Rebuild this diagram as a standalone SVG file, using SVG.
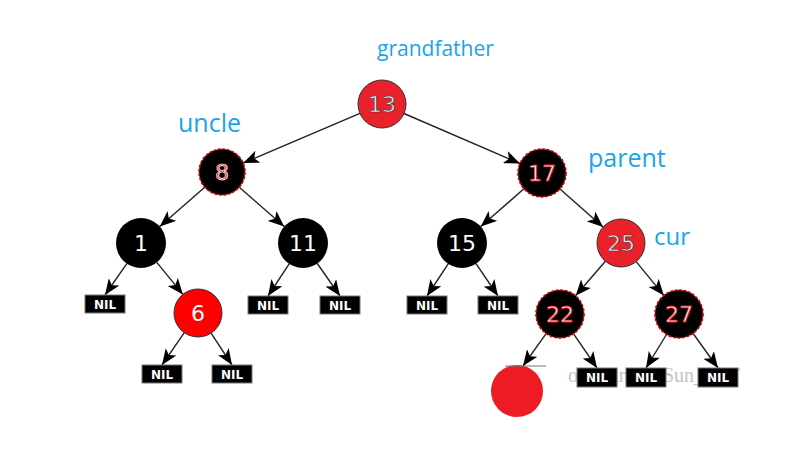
<svg xmlns="http://www.w3.org/2000/svg" width="802" height="467" viewBox="0 0 802 467">
<style>
.lbl{font-family:"Open Sans","DejaVu Sans",sans-serif;fill:#1ba3ec}
.num{font-family:"DejaVu Sans",sans-serif;font-size:22px;text-anchor:middle}
.red{fill:#e8212b;stroke:#333;stroke-width:1}
.rtx{fill:#f4f4f4;stroke:#333;stroke-width:0.6}
.blk{fill:#000}
.btx{fill:#fff}
.dsh{fill:#000;stroke:#c8000a;stroke-width:1.6;stroke-dasharray:3 1.5}
.dtx{fill:#fff;stroke:#e0101a;stroke-width:0.8}
.nilb{fill:#000;stroke:#777;stroke-width:1}
.nilt{font-family:"DejaVu Sans",sans-serif;font-weight:bold;font-size:12px;fill:#fff;text-anchor:middle}
.edge{stroke:#222;stroke-width:1.4;fill:none;marker-end:url(#ah)}
.wm{font-family:"Liberation Serif",serif;font-size:20px;fill:#c4c4c4}
</style>
<defs>
<marker id="ah" markerUnits="userSpaceOnUse" markerWidth="17" markerHeight="13" viewBox="0 0 17 13" refX="16" refY="6.5" orient="auto">
<path d="M0,0 L16,6.5 L0,13 L4,6.5 z" fill="#000"/>
</marker>
</defs>
<rect width="802" height="467" fill="#fff"/>
<text class="wm" x="568" y="382" textLength="172" lengthAdjust="spacing">og.csdn.net/Sun_TTT</text>
<g id="connectors">
<line class="edge" x1="359.9" y1="113.4" x2="243.2" y2="163"/>
<line class="edge" x1="404" y1="113.5" x2="520" y2="163.5"/>
<line class="edge" x1="204.7" y1="187.2" x2="159.8" y2="226.5"/>
<line class="edge" x1="239.3" y1="187.2" x2="284.2" y2="226.5"/>
<line class="edge" x1="523.9" y1="188.8" x2="480.8" y2="226.5"/>
<line class="edge" x1="560" y1="188.9" x2="603" y2="227.1"/>
<line class="edge" x1="126.8" y1="263.6" x2="105" y2="295"/>
<line class="edge" x1="156.8" y1="262.4" x2="182.9" y2="294.4"/>
<line class="edge" x1="289.2" y1="263.9" x2="268" y2="296"/>
<line class="edge" x1="317.3" y1="263.5" x2="340" y2="296"/>
<line class="edge" x1="448.2" y1="263.9" x2="427" y2="296"/>
<line class="edge" x1="476" y1="263.7" x2="498" y2="296"/>
<line class="edge" x1="605.4" y1="261.2" x2="575.6" y2="295.8"/>
<line class="edge" x1="636.2" y1="261.6" x2="663.8" y2="295.4"/>
<line class="edge" x1="184.3" y1="332.7" x2="162" y2="365"/>
<line class="edge" x1="211.1" y1="333.1" x2="232" y2="365"/>
<line class="edge" x1="546.1" y1="333.6" x2="523" y2="366"/>
<line class="edge" x1="573.6" y1="333.8" x2="597" y2="368"/>
<line class="edge" x1="666.5" y1="334.5" x2="646" y2="368"/>
<line class="edge" x1="693.1" y1="333.5" x2="718" y2="368"/>
</g>
<text class="lbl" x="377" y="56" font-size="21">grandfather</text>
<text class="lbl" x="178" y="132" font-size="25">uncle</text>
<text class="lbl" x="588" y="167" font-size="25">parent</text>
<text class="lbl" x="654" y="245" font-size="24">cur</text>
<g id="n13"><circle class="red" cx="382" cy="104" r="24"/><text class="num rtx" x="382" y="112">13</text></g>
<g id="n8"><circle class="dsh" cx="222" cy="172" r="23"/><text class="num" x="222" y="180" fill="#ff2a2a" stroke="#fff" stroke-width="0.7">8</text></g>
<g id="n17"><circle class="dsh" cx="542" cy="173" r="24"/><text class="num dtx" x="542" y="181">17</text></g>
<g id="n1"><circle class="blk" cx="141" cy="243" r="25"/><text class="num btx" x="141" y="251">1</text></g>
<g id="n11"><circle class="blk" cx="303" cy="243" r="25"/><text class="num btx" x="303" y="251">11</text></g>
<g id="n15"><circle class="blk" cx="462" cy="243" r="25"/><text class="num btx" x="462" y="251">15</text></g>
<g id="n25"><circle class="red" cx="621" cy="243" r="24"/><text class="num rtx" x="621" y="251">25</text></g>
<g id="n6"><circle cx="198" cy="313" r="24" fill="#ff0000" stroke="#333" stroke-width="1"/><text class="num btx" x="198" y="321">6</text></g>
<g id="n22"><circle class="dsh" cx="560" cy="314" r="24"/><text class="num dtx" x="560" y="322">22</text></g>
<g id="n27"><circle class="dsh" cx="679" cy="314" r="24"/><text class="num dtx" x="679" y="322">27</text></g>
<g id="nilA"><rect class="nilb" x="85" y="295" width="40" height="18"/><text class="nilt" x="105" y="308.5">NIL</text></g>
<g id="nilB"><rect class="nilb" x="248" y="296" width="40" height="18"/><text class="nilt" x="268" y="309.5">NIL</text></g>
<g id="nilC"><rect class="nilb" x="320" y="296" width="40" height="18"/><text class="nilt" x="340" y="309.5">NIL</text></g>
<g id="nilD"><rect class="nilb" x="407" y="296" width="40" height="18"/><text class="nilt" x="427" y="309.5">NIL</text></g>
<g id="nilE"><rect class="nilb" x="478" y="296" width="40" height="18"/><text class="nilt" x="498" y="309.5">NIL</text></g>
<g id="nilF"><rect class="nilb" x="142" y="365" width="40" height="18"/><text class="nilt" x="162" y="378.5">NIL</text></g>
<g id="nilG"><rect class="nilb" x="212" y="365" width="40" height="18"/><text class="nilt" x="232" y="378.5">NIL</text></g>
<g id="nilH"><rect class="nilb" x="577" y="368" width="40" height="19"/><text class="nilt" x="597" y="382">NIL</text></g>
<g id="nilI"><rect class="nilb" x="626" y="368" width="40" height="19"/><text class="nilt" x="646" y="382">NIL</text></g>
<g id="nilJ"><rect class="nilb" x="698" y="368" width="40" height="19"/><text class="nilt" x="718" y="382">NIL</text></g>
<g id="newnode"><circle cx="517" cy="391" r="26" fill="#ed1c24"/><line x1="505" y1="366" x2="546" y2="366" stroke="#777" stroke-width="1"/></g>
</svg>
